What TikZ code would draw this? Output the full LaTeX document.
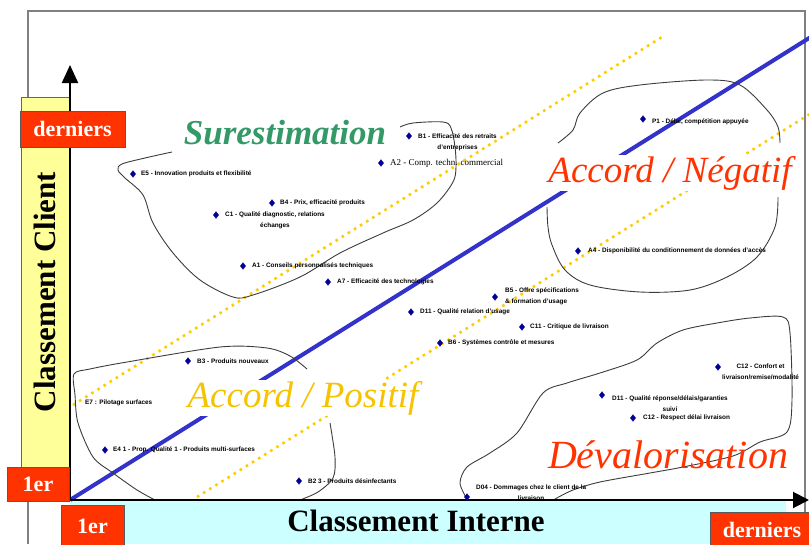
\documentclass[tikz,border=0pt]{standalone}
\usepackage{fontspec}
\setmainfont{Liberation Serif}
\setsansfont{Liberation Sans}
\usetikzlibrary{shapes.geometric,arrows.meta}
\definecolor{boxred}{RGB}{255,51,0}
\definecolor{baryellow}{RGB}{255,255,153}
\definecolor{barcyan}{RGB}{204,255,255}
\definecolor{lineblue}{RGB}{51,51,204}
\definecolor{dotyellow}{RGB}{255,204,0}
\definecolor{surgreen}{RGB}{51,153,102}
\definecolor{posgold}{RGB}{245,195,0}
\definecolor{diablue}{RGB}{0,0,153}
\definecolor{framegray}{RGB}{128,128,128}
\definecolor{blobgray}{RGB}{60,60,60}
\begin{document}
\begin{tikzpicture}[x=1pt,y=-1pt,
  redbox/.style={fill=boxred, draw=black!65, line width=0.8pt, text=white, font=\fontsize{22}{22}\selectfont\bfseries, inner sep=0pt},
  axislbl/.style={font=\fontsize{31}{31}\selectfont\bfseries, inner sep=0pt},
  regionlbl/.style={font=\fontsize{37}{37}\selectfont\itshape, inner sep=1pt},
  blob/.style={draw=blobgray, line width=0.9pt},
  dotline/.style={draw=dotyellow, line width=2.6pt, dash pattern=on 2.6pt off 4.6pt},
  bluel/.style={draw=lineblue, line width=4pt},
  dia/.style={diamond, fill=diablue, minimum width=6pt, minimum height=7.5pt, inner sep=0pt},
  lab/.style={font=\sffamily\bfseries\fontsize{6.4}{11}\selectfont, inner sep=0pt, anchor=west, align=center},
]
\useasboundingbox (0,0) rectangle (809,544);
\clip (0,0) rectangle (809,544);
% frame
\draw[framegray, line width=1.5pt] (28,544) -- (28,11) -- (805,11) -- (805,544);
% bars
\fill[barcyan] (70,501) rectangle (786,544);
\draw[fill=baryellow, draw=black!60, line width=0.8pt] (21,97) rectangle (70,500);
% diagonal lines
\draw[bluel] (70,500) -- (812,36.25);
\draw[dotline] (73,405) -- (662,37);
\draw[dotline] (197,497) -- (812,112.6);
% blobs
\draw[blob] plot[smooth, tension=0.55] coordinates {(400,127) (413,123) (443,122) (451,128) (455,147) (456,167) (453,182) (437,203) (413,220) (383,233) (340,253) (300,277) (253,295) (233,297) (200,280) (173,253) (153,223) (143,195) (125,178) (118,170) (122,164) (145,158) (172,152)};
\draw[blob] plot[smooth, tension=0.55] coordinates {(558,143) (573,130) (580,113) (603,93) (640,85) (707,80) (740,85) (767,110) (778,127) (780,143)};
\draw[blob] plot[smooth, tension=0.55] coordinates {(778,197) (775,227) (757,257) (727,277) (690,290) (640,292) (590,285) (565,270) (552,245) (548,227) (547,207)};
\draw[blob] plot[smooth, tension=0.5] coordinates {(155,500) (137,490) (113,473) (93,457) (78,423) (75,395) (74,374) (90,369) (127,362) (220,347) (267,348) (290,356) (307,369)};
\draw[blob] plot[smooth, tension=0.5] coordinates {(330,423) (335,457) (333,478) (318,492) (300,500)};
\draw[blob] plot[smooth, tension=0.5] coordinates {(555,499) (573,490) (600,482) (650,473) (683,467) (733,456) (760,442) (787,432) (792,400) (790,333) (783,317) (750,318) (717,323) (683,330) (657,343) (637,360) (600,373) (567,383) (543,393) (517,433) (490,453) (467,467) (460,483) (467,499)};
% axes
\draw[line width=2pt, -{Triangle[length=18pt,width=16pt]}] (70,501) -- (70,65);
\draw[line width=2pt, -{Triangle[length=16pt,width=16pt]}] (69,500) -- (809,500);
% region labels
\node[regionlbl, font=\fontsize{35}{35}\selectfont\bfseries\itshape, text=surgreen, fill=white] (sur) at (285,133) {Surestimation};
\node[regionlbl, text=boxred, fill=white] (neg) at (670,173) {Accord / Négatif};
\node[regionlbl, text=posgold, fill=white] (pos) at (303,398) {Accord / Positif};
\node[regionlbl, font=\fontsize{40}{40}\selectfont\itshape, text=boxred] (dev) at (668,455) {Dévalorisation};
% data points
\node[dia] (d1) at (133,174) {};  \node[lab] (l1) at (141,174) {E5 - Innovation produits et flexibilité};
\node[dia] (d2) at (272,203) {};  \node[lab] (l2) at (280,203) {B4 - Prix, efficacité produits};
\node[dia] (d3) at (216,215) {};  \node[lab] (l3) at (225,220.5) {C1 - Qualité diagnostic, relations\\échanges};
\node[dia] (d4) at (243,266) {};  \node[lab] (l4) at (252,266) {A1 - Conseils personnalisés techniques};
\node[dia] (d5) at (328,282) {};  \node[lab] (l5) at (337,282) {A7 - Efficacité des technologies};
\node[dia] (d6) at (409,136) {};  \node[lab] (l6) at (418,142) {B1 - Efficacité des retraits\\d'entreprises};
\node[dia] (d7) at (381,163) {};  \node[lab, font=\fontsize{9}{9}\selectfont] (l7) at (390,163) {A2 - Comp. techn. commercial};
\node[dia] (d8) at (643,119) {};  \node[lab] (l8) at (652,122) {P1 - Délai, compétition appuyée};
\node[dia] (d9) at (578,251) {};  \node[lab] (l9) at (588,251) {A4 - Disponibilité du conditionnement de données d'accès};
\node[dia] (d10) at (495,297) {}; \node[lab, align=left] (l10) at (505,296.5) {B5 - Offre spécifications\\\& formation d'usage};
\node[dia] (d11) at (411,312) {}; \node[lab] (l11) at (420,312) {D11 - Qualité relation d'usage};
\node[dia] (d12) at (522,327) {}; \node[lab] (l12) at (530,327) {C11 - Critique de livraison};
\node[dia] (d13) at (440,343) {}; \node[lab] (l13) at (448,343) {B6 - Systèmes contrôle et mesures};
\node[dia] (d14) at (188,361) {}; \node[lab] (l14) at (197,361) {B3 - Produits nouveaux};
\node[lab] (l15) at (85,403) {E7 : Pilotage surfaces};
\node[dia] (d16) at (105,450) {}; \node[lab] (l16) at (113,450) {E4 1 - Prop. Qualité 1 - Produits multi-surfaces};
\node[dia] (d17) at (299,481) {}; \node[lab] (l17) at (308,481) {B2 3 - Produits désinfectants};
\node[dia] (d18) at (718,367) {}; \node[lab] (l18) at (722,372) {C12 - Confort et\\livraison/remise/modalité};
\node[dia] (d19) at (602,395) {}; \node[lab] (l19) at (612,404) {D11 - Qualité réponse/délais/garanties\\suivi};
\node[dia] (d20) at (633,418) {}; \node[lab] (l20) at (643,418) {C12 - Respect délai livraison};
\node[dia] (d21) at (467,497) {}; \node[lab] (l21) at (476,493) {D04 - Dommages chez le client de la\\livraison};
% axis titles
\node[axislbl, rotate=90] (cc) at (45,292) {Classement Client};
\node[axislbl] (ci) at (416,521) {Classement Interne};
% red boxes
\node[redbox, minimum width=105pt, minimum height=36pt] (dtop) at (72.5,129) {derniers};
\node[redbox, minimum width=62pt, minimum height=34pt] (oneleft) at (38,484) {1er};
\node[redbox, minimum width=63pt, minimum height=42pt, text depth=0pt] (onebot) at (92.5,526) {1er};
\node[redbox, minimum width=104pt, minimum height=36pt] (dbot) at (762,530) {derniers};
\end{tikzpicture}
\end{document}
